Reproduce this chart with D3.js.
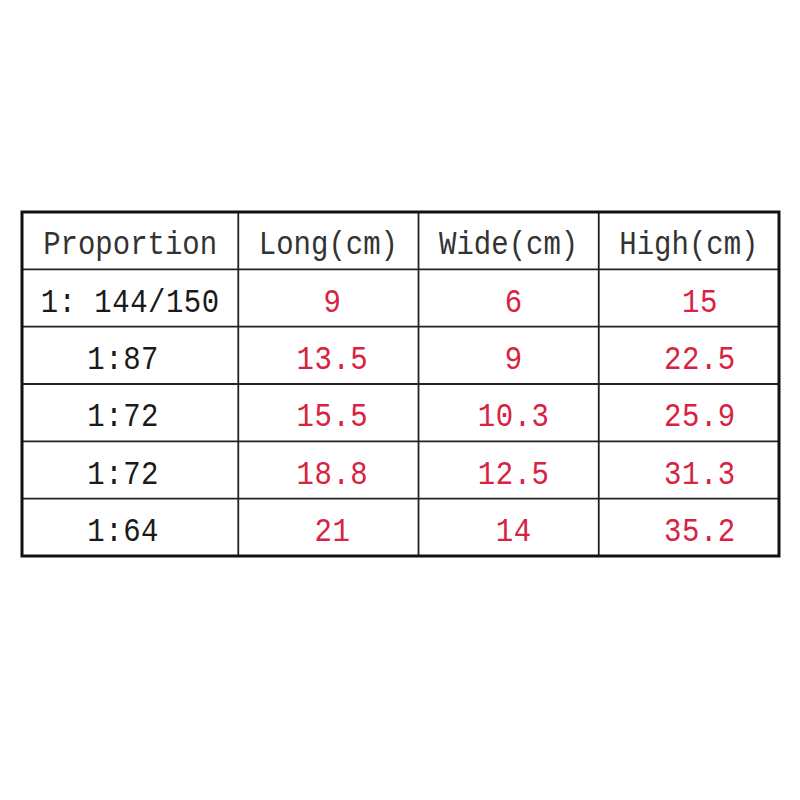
<!DOCTYPE html>
<html>
<head>
<meta charset="utf-8">
<script src="https://cdn.jsdelivr.net/npm/d3@7"></script>
<style>
  html, body { margin: 0; padding: 0; background: #fff; }
  svg { display: block; }
</style>
</head>
<body>
<svg id="chart" width="800" height="800"></svg>
<script>
// ---- data ----
const headers = ["Proportion", "Long(cm)", "Wide(cm)", "High(cm)"];
const proportions = ["1: 144/150", "1:87", "1:72", "1:72", "1:64"];
const longValues = ["9", "13.5", "15.5", "18.8", "21"];
const wideValues = ["6", "9", "10.3", "12.5", "14"];
const highValues = ["15", "22.5", "25.9", "31.3", "35.2"];

// ---- layout ----
const tLeft = 22, tRight = 779, tTop = 212, tBottom = 556;
const colWeights = [1.2, 1, 1, 1];
const dataColNudge = [-7, 4, 5, 11];
const colEdges = [0];
colWeights.forEach(w => colEdges.push(colEdges[colEdges.length - 1] + w));

const x = d3.scaleLinear().domain([0, colEdges[colEdges.length - 1]]).range([tLeft, tRight]);
const rowKeys = ["header"].concat(proportions.map((_, i) => "r" + i));
const y = d3.scaleBand().domain(rowKeys).range([tTop, tBottom]);

const svg = d3.select("#chart");
const fontFamily = "'Liberation Mono', 'DejaVu Sans Mono', monospace";

const rows = [headers].concat(proportions.map((p, i) => [p, longValues[i], wideValues[i], highValues[i]]));

const g = svg.append("g");
rows.forEach((row, ri) => {
  const key = rowKeys[ri];
  const cy = y(key) + y.bandwidth() / 2;
  row.forEach((txt, ci) => {
    let cx = (x(colEdges[ci]) + x(colEdges[ci + 1])) / 2;
    if (ri > 0 && !(ri === 1 && ci === 0)) cx += dataColNudge[ci];
    const isRed = ri > 0 && ci > 0;
    g.append("text")
      .attr("transform", `translate(${cx},${cy + (ri === 0 ? 13 : 13.5)}) scale(1,1.15)`)
      .attr("text-anchor", "middle")
      .attr("font-family", fontFamily)
      .attr("font-size", 29)
      .attr("letter-spacing", ri === 0 ? 0 : 0.5)
      .attr("fill", isRed ? "#d8223f" : (ri === 0 ? "#333" : "#1a1a1a"))
      .text(txt);
  });
});

// grid lines
const inner = svg.append("g").attr("stroke", "#222").attr("stroke-width", 1.8);
colEdges.slice(1, -1).forEach(e => {
  inner.append("line").attr("x1", x(e)).attr("x2", x(e)).attr("y1", tTop).attr("y2", tBottom);
});
rowKeys.slice(1).forEach(k => {
  inner.append("line").attr("x1", tLeft).attr("x2", tRight).attr("y1", y(k)).attr("y2", y(k));
});

// outer border
svg.append("rect")
  .attr("x", tLeft).attr("y", tTop)
  .attr("width", tRight - tLeft).attr("height", tBottom - tTop)
  .attr("fill", "none").attr("stroke", "#111").attr("stroke-width", 3);
</script>
</body>
</html>
